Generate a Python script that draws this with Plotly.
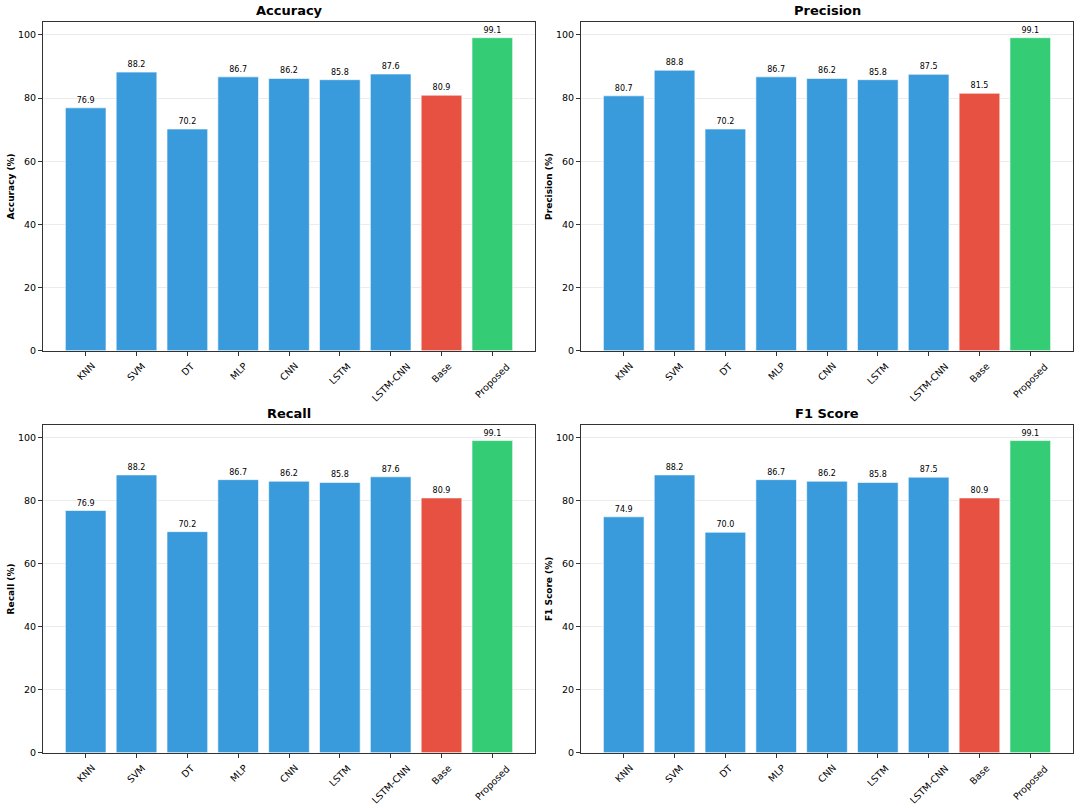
import plotly.graph_objects as go
from plotly.subplots import make_subplots

models = ['KNN', 'SVM', 'DT', 'MLP', 'CNN', 'LSTM', 'LSTM-CNN', 'Base', 'Proposed']
accuracy = [76.9, 88.2, 70.2, 86.7, 86.2, 85.8, 87.6, 80.9, 99.1]
precision = [80.7, 88.8, 70.2, 86.7, 86.2, 85.8, 87.5, 81.5, 99.1]
recall = [76.9, 88.2, 70.2, 86.7, 86.2, 85.8, 87.6, 80.9, 99.1]
f1_score = [74.9, 88.2, 70.0, 86.7, 86.2, 85.8, 87.5, 80.9, 99.1]

metrics = [('Accuracy', accuracy), ('Precision', precision),
           ('Recall', recall), ('F1 Score', f1_score)]
bar_colors = ['#3498db'] * 7 + ['#e74c3c', '#2ecc71']

FONT = 'DejaVu Sans'

fig = make_subplots(rows=2, cols=2)

# panel positions to mimic the matplotlib grid
x_doms = [[0.0398, 0.4954], [0.538, 0.9935]]
y_doms = [[0.5631, 0.9726], [0.0625, 0.4708]]

for i, (name, vals) in enumerate(metrics):
    r, c = i // 2 + 1, i % 2 + 1
    sfx = '' if i == 0 else str(i + 1)
    fig.add_trace(go.Bar(
        x=list(range(len(models))),
        y=vals,
        width=0.8,
        marker=dict(color=bar_colors, opacity=0.97,
                    line=dict(color='rgba(255,255,255,0.6)', width=1)),
        text=[f'{v:.1f}' for v in vals],
        textposition='outside',
        textfont=dict(family=FONT, size=8, color='black'),
        cliponaxis=False,
        showlegend=False,
    ), r, c)

    fig.update_xaxes(
        domain=x_doms[c - 1],
        range=[-0.84, 8.84],
        tickmode='array', tickvals=list(range(len(models))),
        showticklabels=False,
        ticks='outside', ticklen=4, tickcolor='#333',
        showline=True, linecolor='#333', linewidth=1, mirror=True,
        showgrid=False, zeroline=False,
        row=r, col=c)
    fig.update_yaxes(
        domain=y_doms[r - 1],
        range=[0, 104.06],
        tickvals=[0, 20, 40, 60, 80, 100],
        ticks='outside', ticklen=4, tickcolor='#333',
        tickfont=dict(family=FONT, size=9.5, color='black'),
        showline=True, linecolor='#333', linewidth=1, mirror=True,
        showgrid=True, gridcolor='rgba(200,200,200,0.35)', gridwidth=1,
        zeroline=False,
        title=dict(text=f'<b>{name} (%)</b>', standoff=1,
                   font=dict(family=FONT, size=9, color='black')),
        row=r, col=c)

    # rotated category labels centred under each tick (matplotlib style)
    for k, m in enumerate(models):
        fig.add_annotation(
            text=m, x=k, xref='x' + sfx,
            y=0, yref=f'y{sfx} domain',
            xanchor='center', yanchor='top', yshift=-7,
            textangle=-45, showarrow=False,
            font=dict(family=FONT, size=9.5, color='black'))

    # panel title
    fig.add_annotation(
        text=f'<b>{name}</b>',
        x=sum(x_doms[c - 1]) / 2, y=y_doms[r - 1][1] + 0.002,
        xref='paper', yref='paper', xanchor='center', yanchor='bottom',
        showarrow=False,
        font=dict(family=FONT, size=13, color='black'))

fig.update_layout(
    width=1080, height=808,
    margin=dict(l=0, r=0, t=0, b=0),
    paper_bgcolor='white', plot_bgcolor='white',
    font=dict(family=FONT),
    bargap=0.2,
)

# drop the default page margin so the figure sits at the window origin
fig.write_html('out.html', config={'displayModeBar': False},
               post_script="document.body.style.margin='0';")
